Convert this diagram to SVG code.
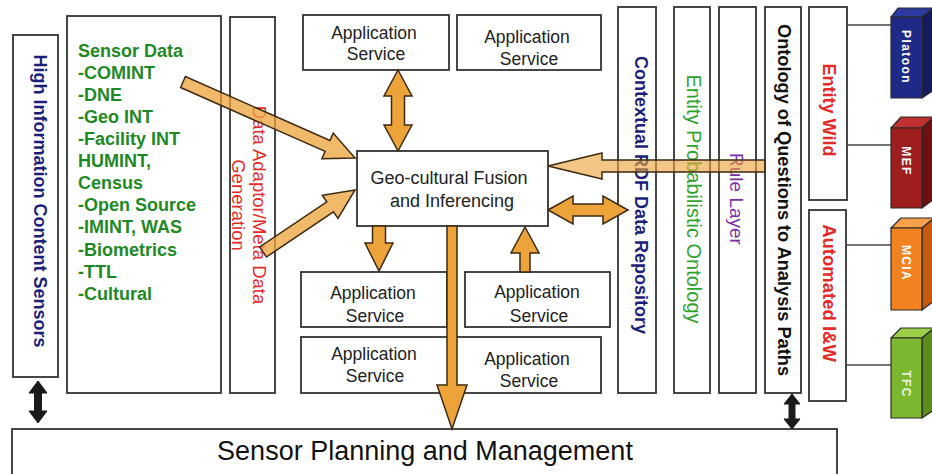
<svg xmlns="http://www.w3.org/2000/svg" width="932" height="474" viewBox="0 0 932 474">
  <style>
    .box { fill: #ffffff; stroke: #333333; stroke-width: 1.8; }
    .txt { font-family: "Liberation Sans", Arial, sans-serif; }
    .svc { font-family: "Liberation Sans", Arial, sans-serif; font-size: 17.5px; fill: #222222; text-anchor: middle; }
    .vert { font-family: "Liberation Sans", Arial, sans-serif; text-anchor: middle; }
    .arrow { fill: #eca33a; stroke: #3d2a12; stroke-width: 1.5; stroke-linejoin: miter; }
    .blk { fill: #1a1a1a; stroke: #1a1a1a; stroke-width: 1; }
    .link { stroke: #444444; stroke-width: 1.6; fill: none; }
    .cube-label { font-family: "Liberation Sans", Arial, sans-serif; font-size: 12px; font-weight: bold; fill: #ffffff; text-anchor: middle; letter-spacing: 1.4px; }
    .edge { stroke: #2a2a2a; stroke-width: 1.2; stroke-linejoin: round; }
  </style>
  <defs>
    <linearGradient id="gradIn1" gradientUnits="userSpaceOnUse" x1="183" y1="82" x2="355" y2="158">
      <stop offset="0" stop-color="#f7d77e"/>
      <stop offset="0.55" stop-color="#f3c25f"/>
      <stop offset="1" stop-color="#eca33a"/>
    </linearGradient>
    <linearGradient id="gradIn2" gradientUnits="userSpaceOnUse" x1="263" y1="252" x2="355" y2="190">
      <stop offset="0" stop-color="#f7d77e"/>
      <stop offset="1" stop-color="#eca33a"/>
    </linearGradient>
    <linearGradient id="gradRule" gradientUnits="userSpaceOnUse" x1="765" y1="0" x2="548" y2="0">
      <stop offset="0" stop-color="#f6cf74"/>
      <stop offset="0.6" stop-color="#f2bb58"/>
      <stop offset="1" stop-color="#eca33a"/>
    </linearGradient>
  </defs>

  <rect width="932" height="474" fill="#ffffff"/>

  <!-- left side: sensors, sensor data, adaptor -->
  <g id="high-info-sensors">
    <rect class="box" x="13" y="35" width="45" height="342"/>
    <text class="vert" transform="translate(34,201) rotate(90)" font-size="18" font-weight="bold" fill="#1c1f7a">High Information Content Sensors</text>
  </g>

  <g id="sensor-data">
    <rect class="box" x="67" y="16" width="154" height="377"/>
    <text class="txt" font-size="18" font-weight="bold" fill="#1f8a25">
      <tspan x="78" y="57">Sensor Data</tspan>
      <tspan x="78" y="79">-COMINT</tspan>
      <tspan x="78" y="101">-DNE</tspan>
      <tspan x="78" y="123">-Geo INT</tspan>
      <tspan x="78" y="145">-Facility INT</tspan>
      <tspan x="78" y="167">HUMINT,</tspan>
      <tspan x="78" y="189">Census</tspan>
      <tspan x="78" y="211">-Open Source</tspan>
      <tspan x="78" y="233">-IMINT, WAS</tspan>
      <tspan x="78" y="256">-Biometrics</tspan>
      <tspan x="78" y="278">-TTL</tspan>
      <tspan x="78" y="300">-Cultural</tspan>
    </text>
  </g>

  <g id="data-adaptor">
    <rect class="box" x="230" y="17" width="45" height="376"/>
    <text class="vert" transform="translate(253,205) rotate(90)" font-size="18.5" fill="#e32b2b">Data Adaptor/Meta Data</text>
    <text class="vert" transform="translate(232,205) rotate(90)" font-size="18.5" fill="#e32b2b">Generation</text>
  </g>

  <!-- central services -->
  <g id="app-service-1">
    <rect class="box" x="303" y="15" width="146" height="55"/>
    <text class="svc"><tspan x="374" y="39">Application</tspan><tspan x="376" y="60">Service</tspan></text>
  </g>
  <g id="app-service-2">
    <rect class="box" x="457" y="15" width="144" height="55"/>
    <text class="svc"><tspan x="527" y="43">Application</tspan><tspan x="529" y="65">Service</tspan></text>
  </g>
  <g id="fusion">
    <rect class="box" x="357" y="151" width="191" height="75"/>
    <text class="txt" font-size="18" fill="#222222" text-anchor="middle"><tspan x="449" y="184">Geo-cultural Fusion</tspan><tspan x="452" y="207">and Inferencing</tspan></text>
  </g>
  <g id="app-service-3">
    <rect class="box" x="301" y="272" width="146" height="55"/>
    <text class="svc"><tspan x="373" y="299">Application</tspan><tspan x="375" y="322">Service</tspan></text>
  </g>
  <g id="app-service-4">
    <rect class="box" x="465" y="272" width="145" height="55"/>
    <text class="svc"><tspan x="537" y="298">Application</tspan><tspan x="539" y="322">Service</tspan></text>
  </g>
  <g id="app-service-5">
    <rect class="box" x="301" y="337" width="153" height="56"/>
    <text class="svc"><tspan x="374" y="360">Application</tspan><tspan x="375" y="382">Service</tspan></text>
  </g>
  <g id="app-service-6">
    <rect class="box" x="454" y="337" width="147" height="56"/>
    <text class="svc"><tspan x="527" y="365">Application</tspan><tspan x="529" y="387">Service</tspan></text>
  </g>

  <!-- right side layers -->
  <g id="rdf-repository">
    <rect class="box" x="618" y="7" width="38" height="386"/>
    <text class="vert" transform="translate(635,195) rotate(90)" font-size="18" font-weight="bold" fill="#1c1f7a">Contextual RDF Data Repository</text>
  </g>
  <g id="probabilistic-ontology">
    <rect class="box" x="674" y="7" width="36" height="386"/>
    <text class="vert" transform="translate(687,199) rotate(90)" font-size="20" fill="#2ea32e">Entity Probabilistic Ontology</text>
  </g>
  <g id="rule-layer">
    <rect class="box" x="719" y="7" width="37" height="386"/>
    <text class="vert" transform="translate(730,199) rotate(90)" font-size="19" fill="#7a2fa6">Rule Layer</text>
  </g>
  <g id="question-ontology">
    <rect class="box" x="765" y="7" width="36" height="386"/>
    <text class="vert" transform="translate(778,200) rotate(90)" font-size="18.2" font-weight="bold" fill="#111111">Ontology of Questions to Analysis Paths</text>
  </g>
  <g id="entity-wild">
    <rect class="box" x="809" y="7" width="38" height="193"/>
    <text class="vert" transform="translate(823,110) rotate(90)" font-size="18" font-weight="bold" fill="#e52a2a">Entity Wild</text>
  </g>
  <g id="automated-iw">
    <rect class="box" x="809" y="210" width="37" height="191"/>
    <text class="vert" transform="translate(823,293) rotate(90)" font-size="18.5" font-weight="bold" fill="#e52a2a">Automated I&amp;W</text>
  </g>

  <g id="sensor-planning">
    <rect class="box" x="12" y="429" width="825" height="60"/>
    <text class="txt" x="425" y="460" font-size="27" fill="#111111" text-anchor="middle">Sensor Planning and Management</text>
  </g>

  <!-- echelon blocks -->
  <g id="platoon">
    <polygon class="edge" points="891,17 898,8 934,8 922,17" fill="#2c3aa0"/>
    <polygon class="edge" points="922,17 934,8 934,90 922,98" fill="#141b5c"/>
    <rect class="edge" x="891" y="17" width="31" height="81" fill="#1f2a86"/>
    <text class="cube-label" transform="translate(902,57) rotate(90)">Platoon</text>
  </g>
  <g id="mef">
    <polygon class="edge" points="891,128 901,117 934,117 922,128" fill="#bf3030"/>
    <polygon class="edge" points="922,128 934,117 934,199 922,208" fill="#6e1010"/>
    <rect class="edge" x="891" y="128" width="31" height="80" fill="#9e1d1d"/>
    <text class="cube-label" transform="translate(902,161) rotate(90)">MEF</text>
  </g>
  <g id="mcia">
    <polygon class="edge" points="891,228 901,218 934,218 922,228" fill="#f9a04a"/>
    <polygon class="edge" points="922,228 934,218 934,301 922,310" fill="#c85a0e"/>
    <rect class="edge" x="891" y="228" width="31" height="82" fill="#f2821f"/>
    <text class="cube-label" transform="translate(902,263) rotate(90)">MCIA</text>
  </g>
  <g id="tfc">
    <polygon class="edge" points="891,338 901,328 934,328 922,338" fill="#9bcf4a"/>
    <polygon class="edge" points="922,338 934,328 934,410 922,418" fill="#5c8d1c"/>
    <rect class="edge" x="891" y="338" width="31" height="80" fill="#7cb82f"/>
    <text class="cube-label" transform="translate(902,384) rotate(90)" fill-opacity="0.85">TFC</text>
  </g>

  <!-- connectors -->
  <g id="connectors">
    <line class="link" x1="847" y1="25" x2="891" y2="25"/>
    <line class="link" x1="847" y1="145" x2="891" y2="145"/>
    <line class="link" x1="846" y1="245" x2="891" y2="245"/>
    <line class="link" x1="846" y1="365" x2="891" y2="365"/>

    <!-- sensor data into fusion -->
    <polygon class="arrow" fill="url(#gradIn1)" fill-opacity="0.75" points="180.6,87.5 325.1,151.4 321.9,158.7 355,158 333.2,133.1 330,140.4 185.4,76.5"/>
    <polygon class="arrow" fill="url(#gradIn2)" fill-opacity="0.75" points="266.4,257 333.5,211.8 338,218.4 355,190 322.3,195.2 326.8,201.8 259.7,247"/>

    <!-- fusion and upper service -->
    <polygon class="arrow" points="398,70 412,96 404.5,96 404.5,125 412,125 398,151 384,125 391.5,125 391.5,96 384,96"/>

    <!-- fusion down to service -->
    <polygon class="arrow" points="372.5,226 385.5,226 385.5,243 393,243 379,271 365,243 372.5,243"/>

    <!-- fusion down to sensor planning -->
    <polygon class="arrow" points="447,226 457,226 457,385 467,385 452,429 437,385 447,385"/>

    <!-- service up to fusion -->
    <polygon class="arrow" points="525,227 539,253 530,253 530,272 520,272 520,253 511,253"/>

    <!-- question ontology into fusion -->
    <polygon class="arrow" fill="url(#gradRule)" fill-opacity="0.62" points="548,166 602,153 602,160 765,160 765,172 602,172 602,179"/>

    <!-- fusion and RDF repository -->
    <polygon class="arrow" points="548,210 573,196 573,204 603,204 603,196 628,210 603,224 603,216 573,216 573,224"/>

    <!-- links to sensor planning -->
    <polygon class="blk" points="38,381 47,393 41.5,393 41.5,411 47,411 38,423 29,411 34.5,411 34.5,393 29,393"/>
    <polygon class="blk" points="792,394 800,404 795,404 795,419 800,419 792,429 784,419 789,419 789,404 784,404"/>
  </g>
</svg>
